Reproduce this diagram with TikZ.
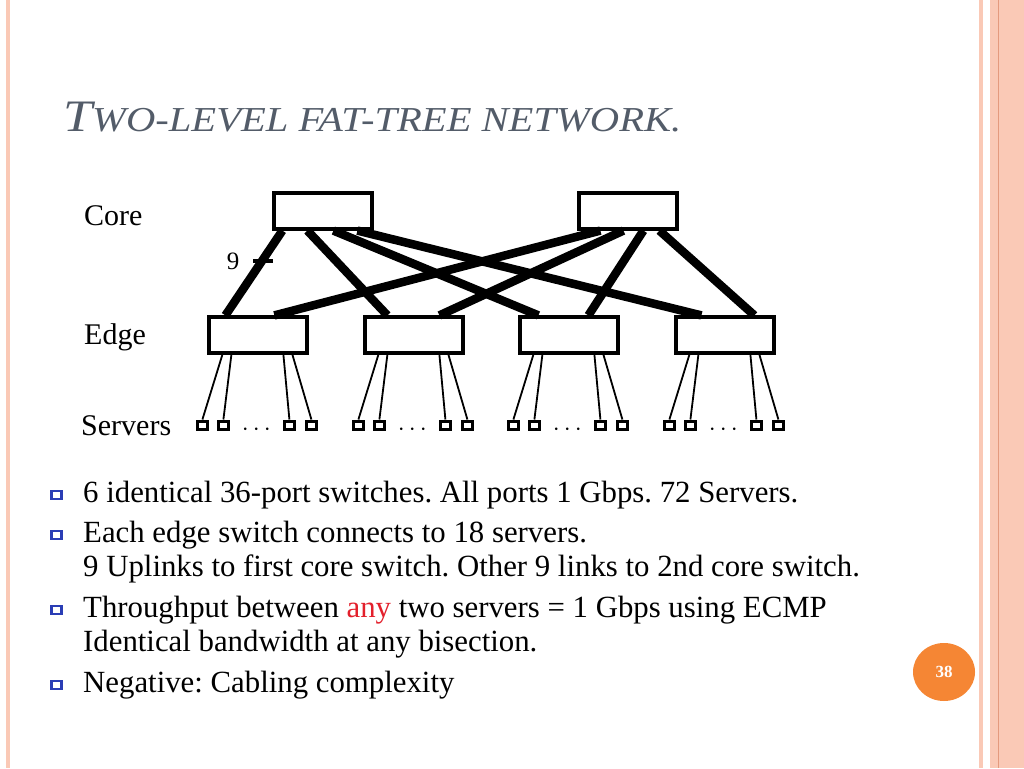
\documentclass[tikz,border=0pt]{standalone}
\usepackage{fontspec}
\setmainfont{Liberation Serif}
\newfontfamily\titlefont[FakeStretch=1.16]{Liberation Serif}
\usetikzlibrary{shapes.geometric}
\definecolor{titlegray}{HTML}{535C69}
\definecolor{stripe}{HTML}{FAC9B6}
\definecolor{stripedark}{HTML}{E49A7E}
\definecolor{numorange}{HTML}{F58634}
\definecolor{bulletblue}{HTML}{2A3DB5}
\definecolor{bulletdark}{HTML}{1A2880}
\definecolor{anyred}{HTML}{E3202C}

\begin{document}
\frenchspacing
\begin{tikzpicture}[x=1pt,y=-1pt,
  switch/.style={draw,line width=3.2pt,minimum width=98pt,minimum height=36pt,inner sep=0pt},
  srv/.style={draw,line width=3pt,minimum width=10pt,minimum height=8pt,inner sep=0pt},
  uplink/.style={line width=8.5pt},
  downlink/.style={line width=1.8pt},
  lbl/.style={font=\fontsize{30}{30}\selectfont,anchor=base west,inner sep=0pt},
  txt/.style={font=\fontsize{30.8}{34}\selectfont,anchor=base west,inner sep=0pt},
  bullet/.style={draw=bulletblue,line width=2.6pt,minimum width=10.5pt,minimum height=8pt,inner sep=0pt}]
\useasboundingbox (0,0) rectangle (1024,768);
\fill[white] (0,0) rectangle (1024,768);
% slide border
\fill[stripe] (6,0) rectangle (10,768);
\fill[stripe] (979,0) rectangle (983,768);
\fill[stripe] (990,0) rectangle (1024,768);
\draw[stripedark,line width=1pt] (998,0) -- (998,768);
% title
\node[anchor=base west,inner sep=0pt,text=titlegray,font=\titlefont\itshape] (title) at (63,131)
  {{\fontsize{45}{45}\selectfont T}{\fontsize{35}{35}\selectfont WO-LEVEL FAT-TREE NETWORK.}};
% levels
\node[lbl] (lcore) at (84,225) {Core};
\node[lbl] (ledge) at (84,344) {Edge};
\node[lbl] (lsrv) at (81,435) {Servers};
% switches
\node[switch] (core1) at (323,211) {};
\node[switch] (core2) at (628,211) {};
\node[switch] (edge1) at (258,335) {};
\node[switch] (edge2) at (414,335) {};
\node[switch] (edge3) at (569,335) {};
\node[switch] (edge4) at (725,335) {};
% uplinks
\draw[uplink] ([xshift=10pt]core1.south west) -- ([xshift=18pt]edge1.north west);
\draw[uplink] ([xshift=35pt]core1.south west) -- ([xshift=24pt]edge2.north west);
\draw[uplink] ([xshift=61pt]core1.south west) -- ([xshift=20pt]edge3.north west);
\draw[uplink] ([xshift=85pt]core1.south west) -- ([xshift=27pt]edge4.north west);
\draw[uplink] ([xshift=23pt]core2.south west) -- ([xshift=67pt]edge1.north west);
\draw[uplink] ([xshift=46pt]core2.south west) -- ([xshift=76pt]edge2.north west);
\draw[uplink] ([xshift=66pt]core2.south west) -- ([xshift=70pt]edge3.north west);
\draw[uplink] ([xshift=82pt]core2.south west) -- ([xshift=80pt]edge4.north west);
% nine links
\coordinate (tickl) at (253,261);
\coordinate (tickr) at (273,261);
\draw[line width=4pt] (tickl) -- (tickr);
\node[font=\fontsize{25}{25}\selectfont,inner sep=0pt] (nine) at (233,261) {9};
% servers
\foreach \e in {1,2,3,4}{
  \node[srv] (s\e a) at ([xshift=-5pt]edge\e.south west |- 0,425) {};
  \node[srv] (s\e b) at ([xshift=16pt]edge\e.south west |- 0,425) {};
  \node[srv] (s\e c) at ([xshift=82pt]edge\e.south west |- 0,425) {};
  \node[srv] (s\e d) at ([xshift=104pt]edge\e.south west |- 0,425) {};
  \node[font=\fontsize{44}{44}\selectfont,inner sep=0pt,anchor=base] (dots\e) at ([xshift=49pt]edge\e.south west |- 0,435.5) {$\cdots$};
  \draw[downlink] ([xshift=15pt]edge\e.south west) -- (s\e a.north);
  \draw[downlink] ([xshift=24pt]edge\e.south west) -- (s\e b.north);
  \draw[downlink] ([xshift=76pt]edge\e.south west) -- (s\e c.north);
  \draw[downlink] ([xshift=85pt]edge\e.south west) -- (s\e d.north);
}
% bullets
\node[bullet] (b1) at (56.5,495) {};
\node[bullet] (b2) at (56.5,535) {};
\node[bullet] (b3) at (56.5,610) {};
\node[bullet] (b4) at (56.5,685) {};
\node[txt] (t1) at (83,502) {6 identical 36-port switches. All ports 1 Gbps. 72 Servers.};
\node[txt] (t2) at (83,542) {Each edge switch connects to 18 servers.};
\node[txt] (t2b) at (83,576) {9 Uplinks to first core switch. Other 9 links to 2nd core switch.};
\node[txt] (t3) at (83,617) {Throughput between \textcolor{anyred}{any} two servers = 1 Gbps using ECMP};
\node[txt] (t3b) at (83,651) {Identical bandwidth at any bisection.};
\node[txt] (t4) at (83,692) {Negative: Cabling complexity};
% page number
\node[ellipse,fill=numorange,minimum width=62pt,minimum height=58pt,inner sep=0pt,
  text=white,font=\bfseries\fontsize{17}{17}\selectfont] (page) at (944,672) {38};
\end{tikzpicture}
\end{document}
